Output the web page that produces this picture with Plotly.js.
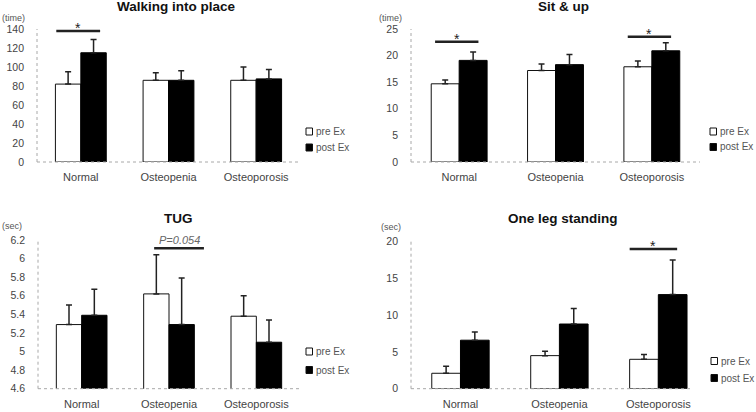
<!DOCTYPE html>
<html><head><meta charset="utf-8">
<script src="https://cdn.plot.ly/plotly-3.0.1.min.js"></script>
<style>html,body{margin:0;padding:0;background:#fff}#chart{width:756px;height:412px}</style>
</head><body><div id="chart"></div>
<script>
// ---- data ----
const categories = ['Normal', 'Osteopenia', 'Osteoporosis'];
const seriesNames = ['pre Ex', 'post Ex'];

const walkPre = [82, 86, 86];
const walkPreErr = [13, 8, 14];
const walkPost = [115, 86, 87.5];
const walkPostErr = [14, 10, 10];

const sitPre = [14.7, 17.2, 17.9];
const sitPreErr = [0.7, 1.2, 1.1];
const sitPost = [19.1, 18.3, 20.9];
const sitPostErr = [1.6, 1.9, 1.5];

const tugPre = [5.29, 5.62, 5.38];
const tugPreErr = [0.21, 0.42, 0.22];
const tugPost = [5.39, 5.29, 5.10];
const tugPostErr = [0.28, 0.50, 0.24];

const olsPre = [2.1, 4.5, 4.0];
const olsPreErr = [0.95, 0.6, 0.65];
const olsPost = [6.6, 8.8, 12.8];
const olsPostErr = [1.1, 2.1, 4.7];

// significance marks: category index, level (data units), label
const walkSig = [{cat: 0, level: 138, label: '*'}];
const sitSig = [{cat: 0, level: 22.6, label: '*'}, {cat: 2, level: 23.55, label: '*'}];
const tugSig = [{cat: 1, level: 6.11, label: 'P=0.054'}];
const olsSig = [{cat: 2, level: 19, label: '*'}];

// ---- layout helpers ----
const W = 756, H = 412;
const fx = p => p / W;
const fy = p => 1 - p / H;
const FONT = 'Liberation Sans, Arial, sans-serif';
const TXT = '#444';
const seriesFill = ['#ffffff', '#000000'];

const panels = [
  {title: 'Walking into place', unit: '(time)', pre: walkPre, preErr: walkPreErr, post: walkPost, postErr: walkPostErr,
   yrange: [0, 140], dtick: 20, tick0: 0, xpx: [37, 300], ypx: [162, 29], xrange: [-0.5, 2.5], sig: walkSig,
   sigSpan: [-0.28, 0.22], titlePx: [176, 7], unitPx: [0, 18], legPx: [306, 131.5, 147.5]},
  {title: 'Sit &amp; up', unit: '(time)', pre: sitPre, preErr: sitPreErr, post: sitPost, postErr: sitPostErr,
   yrange: [0, 25], dtick: 5, tick0: 0, xpx: [411, 700], ypx: [162, 29], xrange: [-0.5, 2.5], sig: sitSig,
   sigSpan: [-0.25, 0.2], titlePx: [563, 7], unitPx: [377, 18], legPx: [710, 131.5, 147]},
  {title: 'TUG', unit: '(sec)', pre: tugPre, preErr: tugPreErr, post: tugPost, postErr: tugPostErr,
   yrange: [4.6, 6.2], dtick: 0.2, tick0: 4.6, xpx: [38, 300], ypx: [388.7, 240], xrange: [-0.5, 2.5], sig: tugSig,
   sigSpan: [-0.17, 0.4], titlePx: [178, 218], unitPx: [0, 226], legPx: [306, 351.5, 370]},
  {title: 'One leg standing', unit: '(sec)', pre: olsPre, preErr: olsPreErr, post: olsPost, postErr: olsPostErr,
   yrange: [0, 20], dtick: 5, tick0: 0, xpx: [411, 690], ypx: [388.7, 241.7], xrange: [-0.5, 2.32], sig: olsSig,
   sigSpan: [-0.29, 0.19], titlePx: [563, 218], unitPx: [379, 227], legPx: [711, 361, 378]}
];

const traces = [];
const shapes = [];
const annotations = [];
const layout = {
  width: W, height: H,
  margin: {l: 0, r: 0, t: 0, b: 0},
  paper_bgcolor: '#fff', plot_bgcolor: 'rgba(0,0,0,0)',
  barmode: 'group', bargap: 0.42, bargroupgap: 0,
  font: {family: FONT, color: TXT, size: 11},
  showlegend: false,
  shapes: shapes, annotations: annotations
};

panels.forEach((p, i) => {
  const n = i === 0 ? '' : String(i + 1);
  const xa = 'x' + n, ya = 'y' + n;
  const zeros = p.pre.map(() => 0);
  traces.push({
    type: 'bar', name: seriesNames[0], x: categories, y: p.pre, xaxis: xa, yaxis: ya,
    marker: {color: seriesFill[0], line: {color: '#111', width: 1}},
    error_y: {type: 'data', symmetric: false, array: p.preErr, arrayminus: zeros, color: '#222', thickness: 1.5, width: 3},
    hoverinfo: 'skip'
  });
  traces.push({
    type: 'bar', name: seriesNames[1], x: categories, y: p.post, xaxis: xa, yaxis: ya,
    marker: {color: seriesFill[1], line: {color: '#000', width: 1}},
    error_y: {type: 'data', symmetric: false, array: p.postErr, arrayminus: zeros, color: '#222', thickness: 1.5, width: 3},
    hoverinfo: 'skip'
  });
  layout['xaxis' + n] = {
    domain: [fx(p.xpx[0]), fx(p.xpx[1])], anchor: ya, type: 'category', range: p.xrange,
    showline: false, showgrid: false, zeroline: false, ticks: '', ticklabelstandoff: 7,
    tickfont: {size: 11, color: TXT, family: FONT}, fixedrange: true
  };
  layout['yaxis' + n] = {
    domain: [fy(p.ypx[0]), fy(p.ypx[1])], anchor: xa, range: p.yrange, dtick: p.dtick, tick0: p.tick0,
    showline: false, showgrid: false, zeroline: false, ticks: '', ticklabelstandoff: 12,
    tickfont: {size: 10.5, color: TXT, family: FONT}, fixedrange: true
  };
  // dotted axis lines
  shapes.push({type: 'line', xref: xa + ' domain', yref: ya + ' domain', x0: 0, x1: 0, y0: 0, y1: 1,
    line: {color: '#a8a8a8', width: 1, dash: 'dot'}});
  shapes.push({type: 'line', xref: xa + ' domain', yref: ya + ' domain', x0: 0, x1: 1, y0: 0, y1: 0,
    line: {color: '#a8a8a8', width: 1, dash: 'dot'}});
  // significance marks
  p.sig.forEach(s => {
    shapes.push({type: 'line', xref: xa, yref: ya, x0: s.cat + p.sigSpan[0], x1: s.cat + p.sigSpan[1],
      y0: s.level, y1: s.level, line: {color: '#222', width: 2.5}});
    const isStar = s.label === '*';
    annotations.push({xref: xa, yref: ya, x: s.cat + (p.sigSpan[0] + p.sigSpan[1]) / 2, y: s.level,
      text: isStar ? '*' : '<i>' + s.label + '</i>', showarrow: false, yanchor: 'bottom',
      yshift: isStar ? -7 : 0,
      font: {size: isStar ? 14 : 11, color: isStar ? '#222' : '#666', family: FONT}});
  });
  // legend (drawn as small squares + labels)
  seriesNames.forEach((name, k) => {
    const cy = p.legPx[1 + k];
    shapes.push({type: 'rect', xref: 'paper', yref: 'paper',
      x0: fx(p.legPx[0]), x1: fx(p.legPx[0] + 6.5), y0: fy(cy + 3.5), y1: fy(cy - 3.5),
      fillcolor: seriesFill[k], line: {color: '#111', width: 1}});
    annotations.push({xref: 'paper', yref: 'paper', x: fx(p.legPx[0] + 7.5), y: fy(cy),
      text: name, showarrow: false, xanchor: 'left', yanchor: 'middle',
      font: {size: 10, color: '#555', family: FONT}});
  });
  // title
  annotations.push({xref: 'paper', yref: 'paper', x: fx(p.titlePx[0]), y: fy(p.titlePx[1]),
    text: '<b>' + p.title + '</b>', showarrow: false, xanchor: 'center', yanchor: 'middle',
    font: {size: 13.5, color: '#111', family: FONT}});
  // unit label
  annotations.push({xref: 'paper', yref: 'paper', x: fx(p.unitPx[0]), y: fy(p.unitPx[1]),
    text: p.unit, showarrow: false, xanchor: 'left', yanchor: 'middle',
    font: {size: 9, color: '#555', family: FONT}});
});

Plotly.newPlot('chart', traces, layout, {displayModeBar: false, staticPlot: true});
</script></body></html>
